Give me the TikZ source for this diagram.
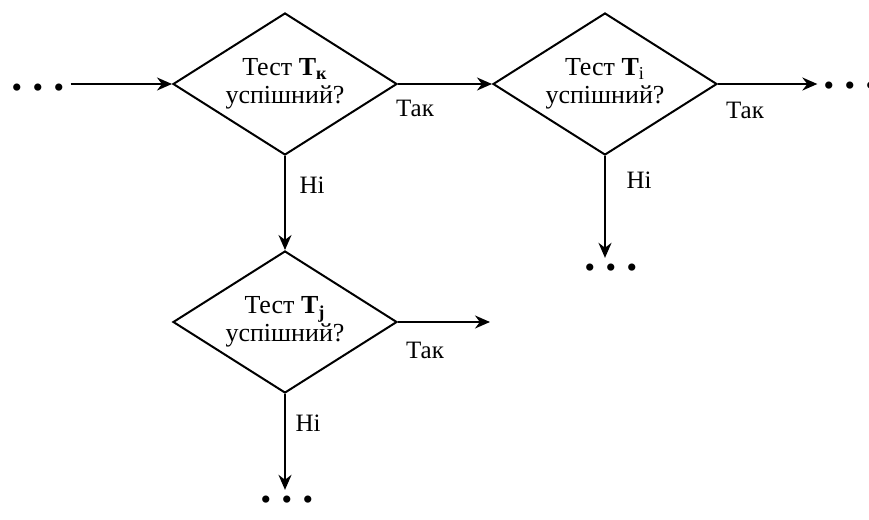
\documentclass[tikz,border=0pt]{standalone}
\usepackage{fontspec}
\setmainfont{Liberation Serif}
\usetikzlibrary{shapes.geometric,arrows.meta,positioning}
\tikzstyle{decision} = [diamond, draw, line width=1pt, aspect=1.6, minimum width=112pt, minimum height=71pt, inner sep=0pt, align=center, font=\rmfamily\fontsize{13}{14}\selectfont]
\tikzstyle{line} = [draw, line width=1pt, -{Stealth[length=7.5pt,width=6.5pt]}]
\tikzstyle{answer} = [inner sep=0pt, font=\rmfamily\fontsize{12.5}{14}\selectfont]
\tikzstyle{dots} = [inner sep=3pt, font=\rmfamily\fontsize{15}{16}\selectfont]
\newcommand{\threedots}{\textbullet\hspace{0.35em}\textbullet\hspace{0.35em}\textbullet}

\begin{document}
\begin{tikzpicture}[x=0.5pt, y=-0.5pt]
    \useasboundingbox (0,0) rectangle (869,520);
    % Place nodes
    \node [decision] (testk) at (285,84) {Тест \textbf{T\textsubscript{к}}\\успішний?};
    \node [decision] (testi) at (605,84) {Тест \textbf{T}\textsubscript{i}\\успішний?};
    \node [decision] (testj) at (285,322) {Тест \textbf{T\textsubscript{j}}\\успішний?};

    \node [dots] (start) at (38,91) {\threedots};
    \node [dots] (nexti) at (850,89) {\threedots};
    \node [dots] (downi) at (611,271) {\threedots};
    \node [dots] (downj) at (287,503) {\threedots};
    \coordinate (yesj) at (490,322);

    \node [answer] (yesk) at (415,108) {Так};
    \node [answer] (yesi) at (745,110) {Так};
    \node [answer] (yesjl) at (425,350) {Так};
    \node [answer] (nok) at (312,185) {Ні};
    \node [answer] (noi) at (639,180) {Ні};
    \node [answer] (noj) at (308,423) {Ні};

    % Draw edges
    \path [line] (start.east |- testk.west) -- (testk.west);
    \path [line] (testk.east) -- (testi.west);
    \path [line] (testi.east) -- (nexti.west |- testi.east);
    \path [line] (testk.south) -- (testj.north);
    \path [line] (testi.south) -- (testi.south |- downi.north);
    \path [line] (testj.east) -- (yesj);
    \path [line] (testj.south) -- (testj.south |- downj.north);
\end{tikzpicture}
\end{document}
